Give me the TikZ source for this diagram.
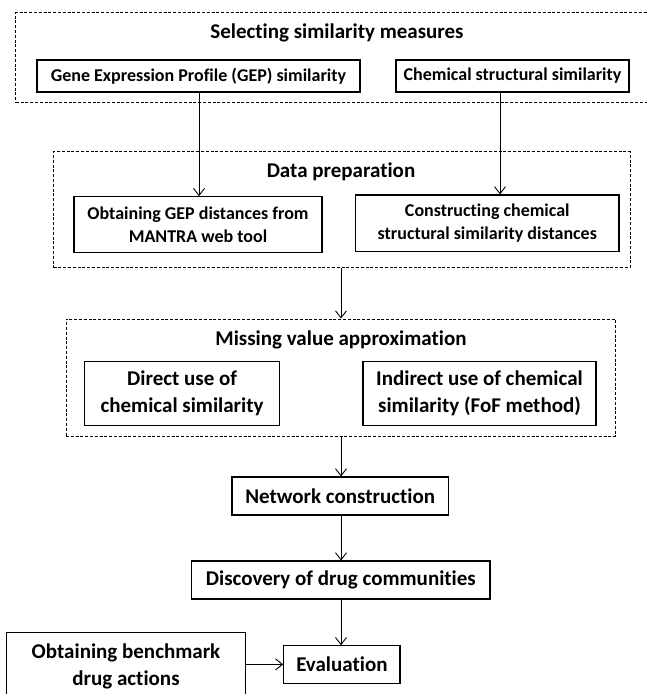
\documentclass[tikz,border=0pt]{standalone}
\usepackage{fontspec}
\setmainfont{Carlito}[Ligatures={NoCommon,TeX}]
\usetikzlibrary{arrows.meta}
\begin{document}
\begin{tikzpicture}[x=1pt,y=-1pt,
  box/.style={draw, line width=1.1pt, inner sep=0pt, align=center},
  group/.style={draw, line width=0.9pt, dash pattern=on 3pt off 1.8pt, inner sep=0pt},
  big/.style={font=\bfseries\fontsize{21}{27}\selectfont},
  small/.style={font=\bfseries\fontsize{18}{23.5}\selectfont},
  arr/.style={line width=0.9pt, -{Straight Barb[length=7pt,width=11pt,line width=0.9pt]}}]
\path[use as bounding box, clip] (0,0) rectangle (647,694);
\fill[white] (0,0) rectangle (647,694);
% group 1
\node[group, minimum width=640pt, minimum height=90pt] (g1) at (335.8,57.7) {};
\node[big] (t1) at (337,33) {Selecting similarity measures};
\node[box, small, minimum width=323pt, minimum height=32pt] (gep) at (198.5,76) {Gene Expression Profile (GEP) similarity};
\node[box, small, minimum width=233pt, minimum height=32pt] (chem) at (512.5,76) {Chemical structural similarity};
% group 2
\node[group, minimum width=576.4pt, minimum height=116pt] (g2) at (341.8,209.7) {};
\node[big] (t2) at (341,172) {Data preparation};
\node[box, small, minimum width=248pt, minimum height=56pt] (gepd) at (198,224.7) {Obtaining GEP distances from\\MANTRA web tool};
\node[box, small, minimum width=263.4pt, minimum height=56.7pt] (cons) at (487.3,223.3) {Constructing chemical\\structural similarity distances};
% group 3
\node[group, minimum width=549.5pt, minimum height=117pt] (g3) at (340.8,377.5) {};
\node[big] (t3) at (341,340) {Missing value approximation};
\node[box, big, minimum width=195pt, minimum height=64pt] (direct) at (182.1,393.7) {Direct use of\\chemical similarity};
\node[box, big, minimum width=233pt, minimum height=64pt] (indirect) at (479.5,393.7) {Indirect use of chemical\\similarity (FoF method)};
% chain
\node[box, big, minimum width=216.4pt, minimum height=38pt] (net) at (340.2,496) {Network construction};
\node[box, big, minimum width=298.2pt, minimum height=38pt] (disc) at (340.9,580) {Discovery of drug communities};
\node[box, big, minimum width=116.2pt, minimum height=37.3pt] (eval) at (341.9,664.4) {Evaluation};
\node[box, big, minimum width=239pt, minimum height=68pt] (bench) at (126,666.7) {Obtaining benchmark\\drug actions};
% connectors
\coordinate (c1) at (199,0);
\coordinate (c2) at (500,0);
\coordinate (c3) at (341,0);
\draw[arr] (gep.south -| c1) -- (gepd.north -| c1);
\draw[arr] (chem.south -| c2) -- (cons.north -| c2);
\draw[arr] (g2.south -| c3) -- (g3.north -| c3);
\draw[arr] (g3.south -| c3) -- (net.north -| c3);
\draw[arr] (net.south -| c3) -- (disc.north -| c3);
\draw[arr] (disc.south -| c3) -- (eval.north -| c3);
\draw[arr] (bench.east |- eval.west) -- (eval.west);
\end{tikzpicture}
\end{document}
